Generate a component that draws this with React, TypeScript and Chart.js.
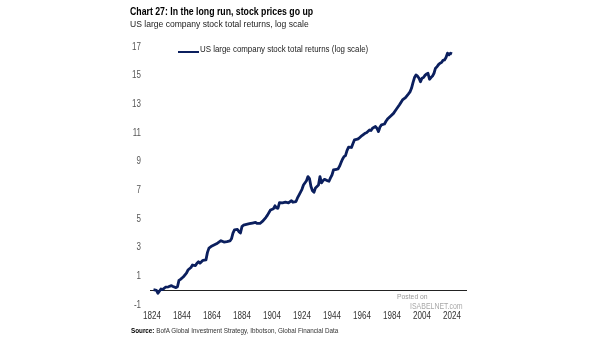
import React, { useEffect, useRef } from "react";
import { Chart, registerables } from "chart.js";

Chart.register(...registerables);

const YEARS = [
  1825, 1827, 1828, 1830, 1831, 1833, 1835, 1837, 1838, 1840, 1841, 1842, 1843, 1845, 1847, 1848, 1850, 1851, 1853, 1854,
  1855, 1856, 1858, 1860, 1861, 1862, 1864, 1867, 1870, 1872, 1874, 1876, 1877, 1878, 1879, 1881, 1882, 1883, 1884, 1885,
  1887, 1889, 1891, 1893, 1894, 1896, 1898, 1900, 1901, 1903, 1905, 1906, 1907, 1908, 1909, 1911, 1913, 1915, 1917, 1918,
  1920, 1921, 1922, 1924, 1925, 1927, 1928, 1929, 1930, 1931, 1932, 1933, 1935, 1936, 1937, 1938, 1939, 1941, 1942, 1943,
  1944, 1945, 1947, 1948, 1949, 1950, 1951, 1952, 1953, 1954, 1955, 1957, 1958, 1959, 1961, 1962, 1964, 1966, 1967, 1969,
  1970, 1971, 1973, 1974, 1975, 1976, 1977, 1979, 1980, 1981, 1983, 1985, 1987, 1989, 1991, 1993, 1995, 1996, 1997, 1998,
  1999, 2000, 2001, 2002, 2003, 2004, 2005, 2006, 2007, 2008, 2009, 2010, 2011, 2012, 2013, 2014, 2015, 2016, 2017, 2018,
  2019, 2020, 2021, 2022, 2023, 2024,
];

const RETURNS_LOG = [
  0.0, -0.05, -0.25, 0.05, 0.0, 0.17, 0.2, 0.28, 0.22, 0.14, 0.2, 0.65, 0.72, 0.9, 1.15, 1.37, 1.55, 1.72, 1.68, 1.85,
  1.95, 1.85, 2.05, 2.08, 2.6, 2.9, 3.05, 3.2, 3.42, 3.32, 3.35, 3.4, 3.55, 3.95, 4.17, 4.2, 4.05, 3.95, 4.4, 4.5,
  4.55, 4.6, 4.65, 4.7, 4.62, 4.62, 4.8, 5.05, 5.2, 5.56, 5.65, 5.85, 5.7, 5.68, 6.07, 6.05, 6.1, 6.05, 6.21, 6.1,
  6.15, 6.4, 6.6, 7.0, 7.3, 7.6, 7.89, 7.75, 7.2, 6.9, 6.8, 7.1, 7.3, 7.89, 7.45, 7.6, 7.7, 7.6, 7.56, 7.8,
  8.0, 8.35, 8.4, 8.42, 8.6, 8.86, 9.1, 9.28, 9.35, 9.7, 9.94, 9.92, 10.2, 10.45, 10.5, 10.56, 10.75, 10.91, 10.95, 11.14,
  11.1, 11.26, 11.38, 11.25, 11.03, 11.35, 11.5, 11.56, 11.75, 11.9, 12.1, 12.3, 12.6, 12.9, 13.24, 13.4, 13.66, 13.8, 14.05, 14.45,
  14.8, 14.98, 14.9, 14.75, 14.5, 14.75, 14.8, 14.95, 15.05, 15.1, 14.68, 14.8, 14.9, 15.1, 15.45, 15.55, 15.7, 15.8, 15.85, 16.0,
  16.03, 16.2, 16.5, 16.38, 16.5, 16.45,
];

const X_TICKS = [1824, 1844, 1864, 1884, 1904, 1924, 1944, 1964, 1984, 2004, 2024];
const Y_TICKS = [-1, 1, 3, 5, 7, 9, 11, 13, 15, 17];

const TITLE = "Chart 27: In the long run, stock prices go up";
const SUBTITLE = "US large company stock total returns, log scale";
const SERIES_NAME = "US large company stock total returns (log scale)";
const SOURCE_LABEL = "Source:";
const SOURCE_TEXT = " BofA Global Investment Strategy, Ibbotson, Global Financial Data";

const NAVY = "#0b1f5e";
const FONT = "'Liberation Sans', Arial, sans-serif";

function Txt(props: { x: number; y: number; size: number; sx: number; color?: string; bold?: boolean; children: any }) {
  return (
    <div
      style={{
        position: "absolute",
        left: props.x,
        top: props.y,
        fontSize: props.size,
        lineHeight: 1,
        fontWeight: props.bold ? 700 : 400,
        color: props.color || "#222",
        whiteSpace: "pre",
        transform: `scaleX(${props.sx})`,
        transformOrigin: "0 0",
        fontFamily: FONT,
      }}
    >
      {props.children}
    </div>
  );
}

export default function App() {
  const ref = useRef<HTMLCanvasElement | null>(null);

  useEffect(() => {
    if (!ref.current) return;
    const decorations = {
      id: "decorations",
      beforeDatasetsDraw(chart: any) {
        const { ctx, chartArea, scales } = chart;
        const y = Math.round(scales.y.getPixelForValue(0)) + 0.5;
        ctx.save();
        ctx.strokeStyle = "#222";
        ctx.lineWidth = 1;
        ctx.beginPath();
        ctx.moveTo(chartArea.left, y);
        ctx.lineTo(chartArea.right, y);
        ctx.stroke();
        ctx.restore();
      },
      afterDraw(chart: any) {
        const { ctx, chartArea, scales } = chart;
        ctx.save();
        ctx.font = `10.5px ${FONT}`;
        ctx.fillStyle = "#333";
        ctx.textAlign = "center";
        ctx.textBaseline = "middle";
        for (const v of X_TICKS) {
          const px = scales.x.getPixelForValue(v);
          ctx.save();
          ctx.translate(px, chartArea.bottom + 12);
          ctx.scale(0.77, 1);
          ctx.fillText(String(v), 0, 0);
          ctx.restore();
        }
        ctx.font = `10px ${FONT}`;
        ctx.fillStyle = "#555";
        ctx.textAlign = "right";
        for (const v of Y_TICKS) {
          const py = scales.y.getPixelForValue(v);
          ctx.save();
          ctx.translate(chartArea.left - 9, py + 1);
          ctx.scale(0.8, 1);
          ctx.fillText(String(v), 0, 0);
          ctx.restore();
        }
        ctx.restore();
      },
    };
    const chart = new Chart(ref.current, {
      type: "line",
      data: {
        datasets: [
          {
            label: SERIES_NAME,
            data: YEARS.map((x, i) => ({ x, y: RETURNS_LOG[i] })),
            borderColor: NAVY,
            backgroundColor: NAVY,
            borderWidth: 2.8,
            pointRadius: 0,
            tension: 0,
            borderJoinStyle: "round",
          },
        ],
      },
      options: {
        animation: false,
        responsive: false,
        layout: { padding: { left: 100, right: 138, top: 46, bottom: 17 } },
        plugins: { legend: { display: false }, tooltip: { enabled: false } },
        scales: {
          x: {
            type: "linear",
            min: 1822.7,
            max: 2034,
            afterBuildTicks: (s: any) => {
              s.ticks = X_TICKS.map((v) => ({ value: v }));
            },
            afterFit: (s: any) => {
              s.height = 20;
            },
            grid: { display: false, drawTicks: false },
            border: { display: false },
            ticks: { display: false },
          },
          y: {
            type: "linear",
            min: -1,
            max: 17,
            afterBuildTicks: (s: any) => {
              s.ticks = Y_TICKS.map((v) => ({ value: v }));
            },
            afterFit: (s: any) => {
              s.width = 50;
            },
            grid: { display: false, drawTicks: false },
            border: { display: false },
            ticks: { display: false },
          },
        },
      },
      plugins: [decorations],
    });
    return () => chart.destroy();
  }, []);

  return (
    <div
      style={{
        position: "fixed",
        left: 0,
        top: 0,
        width: 605,
        height: 341,
        background: "#fff",
        overflow: "hidden",
        fontFamily: FONT,
      }}
    >
      <canvas ref={ref} width={605} height={341} style={{ position: "absolute", left: 0, top: 0 }} />
      <Txt x={130} y={6} size={11.5} sx={0.76} bold color="#000">
        {TITLE}
      </Txt>
      <Txt x={130} y={18.5} size={9.5} sx={0.9} color="#222">
        {SUBTITLE}
      </Txt>
      <div style={{ position: "absolute", left: 178, top: 50.5, width: 21, height: 2, background: NAVY }} />
      <Txt x={200} y={45} size={9.3} sx={0.85} color="#222">
        {SERIES_NAME}
      </Txt>
      <Txt x={397} y={292.5} size={8} sx={0.85} color="#999">
        Posted on
      </Txt>
      <Txt x={410} y={302} size={8.5} sx={0.82} color="#a8a8a8">
        ISABELNET.com
      </Txt>
      <Txt x={131} y={327} size={7} sx={0.9} color="#333">
        <b style={{ color: "#000" }}>{SOURCE_LABEL}</b>
        {SOURCE_TEXT}
      </Txt>
    </div>
  );
}
